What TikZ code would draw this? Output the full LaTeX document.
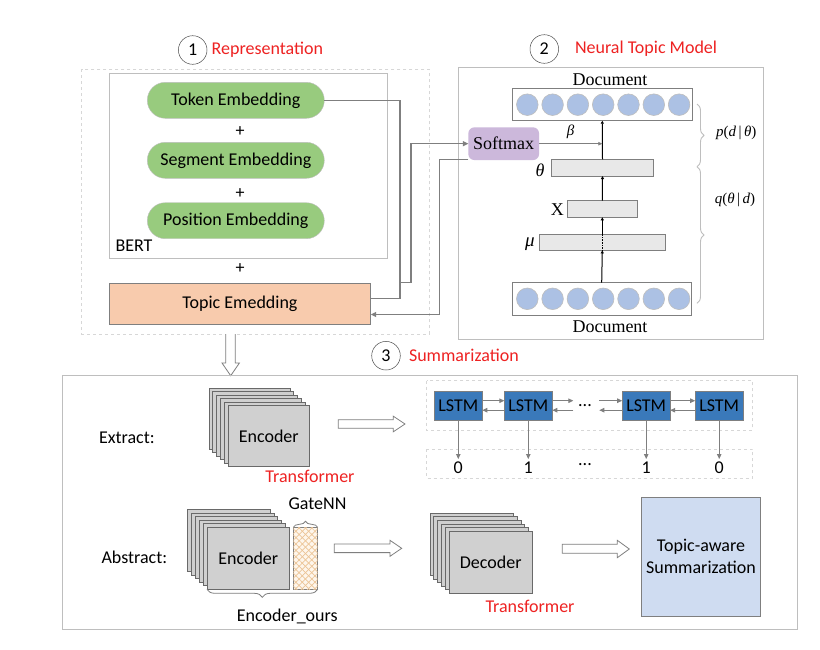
\documentclass[tikz,border=0pt]{standalone}
\usepackage{fontspec}
\setmainfont{Carlito}
\newfontfamily\tms{Liberation Serif}
\usetikzlibrary{arrows.meta,decorations.pathreplacing,patterns,patterns.meta,calc}
\definecolor{lc}{RGB}{127,127,127}
\definecolor{cardbd}{RGB}{105,105,105}
\definecolor{cardfill}{RGB}{208,208,208}
\definecolor{pillgreen}{RGB}{152,203,126}
\definecolor{salmon}{RGB}{248,203,173}
\definecolor{softpurple}{RGB}{204,184,219}
\definecolor{dotblue}{RGB}{172,193,228}
\definecolor{lstmblue}{RGB}{58,121,186}
\definecolor{sumblue}{RGB}{207,220,241}
\definecolor{hdred}{RGB}{238,34,34}
\definecolor{lightbd}{RGB}{190,190,190}
\definecolor{dashbd}{RGB}{215,215,215}
\definecolor{layerfill}{RGB}{232,232,232}
\definecolor{gatefill}{RGB}{254,246,236}
\definecolor{gateline}{RGB}{236,196,150}
\begin{document}
\begin{tikzpicture}[x=1pt,y=-1pt,
  txt/.style={font=\fontsize{18}{21}\selectfont, inner sep=0pt, outer sep=0pt},
  sertxt/.style={font=\tms\fontsize{18}{21}\selectfont, inner sep=0pt, outer sep=0pt},
  hd/.style={txt, text=hdred, anchor=west},
  numc/.style={circle, draw=black!70, line width=0.5pt, minimum size=28.6pt, inner sep=0pt, font=\fontsize{18}{21}\selectfont},
  pill/.style={txt, draw=lightbd, fill=pillgreen, rounded corners=18pt, minimum width=177pt, minimum height=36pt},
  box/.style={inner sep=0pt, outer sep=0pt},
  ln/.style={draw=lc, line width=1.1pt},
  arr/.style={ln, -{Triangle[length=5.5pt,width=5pt]}},
  blk/.style={draw=black, line width=1pt, -{Triangle[length=3pt,width=3pt]}},
  card/.style={draw=cardbd, fill=cardfill, line width=0.8pt},
  lstm/.style={txt, box, draw=lc, fill=lstmblue, line width=0.8pt, minimum width=48pt, minimum height=28.3pt},
  layer/.style={box, draw=lc, fill=layerfill, line width=0.8pt},
  dot/.style={circle, draw=lightbd, fill=dotblue, line width=0.6pt, minimum size=21.6pt, inner sep=0pt},
  brc/.style={draw=lightbd, line width=0.9pt, decorate, decoration={brace, amplitude=7pt}},
  brc2/.style={draw=lc, line width=0.8pt, decorate, decoration={brace, amplitude=8pt}},
  hollow/.style={draw=lc, fill=white, line width=0.8pt}
]
\useasboundingbox (0,0) rectangle (820,649);
\fill[white] (0,0) rectangle (820,649);

% ---------- section 1: representation ----------
\node[numc] (n1) at (192.7,50) {1};
\node[hd] (h1) at (211.7,50) {Representation};
\draw[draw=dashbd, dashed, line width=0.7pt] (81.7,69.3) rectangle (429.3,334);
\draw[draw=lightbd, line width=1pt] (109.3,73.3) rectangle (387.7,258.3);
\node[pill] (token) at (235.8,100.3) {Token Embedding};
\node[txt] (p1) at (240,132) {+};
\node[pill] (segment) at (235.8,160.3) {Segment Embedding};
\node[txt] (p2) at (240,194) {+};
\node[pill] (position) at (235.8,220.7) {Position Embedding};
\node[txt, anchor=west] (bert) at (115.5,246) {BERT};
\node[txt] (p3) at (240,269) {+};
\node[txt, box, draw=lc, fill=salmon, line width=1pt, minimum width=261.4pt, minimum height=41pt] (topic) at (240,303.8) {Topic Emedding};

% ---------- section 2: neural topic model ----------
\node[numc] (n2) at (544.3,49) {2};
\node[hd] (h2) at (575,49) {Neural Topic Model};
\draw[draw=lightbd, line width=1pt] (458.5,67.3) rectangle (763.3,339);
\node[sertxt] (docT) at (610,80) {Document};
\node[box, draw=lc, line width=0.8pt, minimum width=180pt, minimum height=32pt] (rowT) at (602.3,104.7) {};
\foreach \i in {0,...,6} \node[dot] (t\i) at (527.3+\i*25.3,104.7) {};
\node[box, draw=lc, line width=0.8pt, minimum width=178.7pt, minimum height=32.3pt] (rowB) at (601.7,298.8) {};
\foreach \i in {0,...,6} \node[dot] (b\i) at (527.3+\i*25.3,298.8) {};
\node[sertxt] (docB) at (610,326.7) {Document};
\node[layer, minimum width=101.6pt, minimum height=16.7pt] (th) at (602.5,167.7) {};
\node[layer, minimum width=70pt, minimum height=16.6pt] (xb) at (602.3,209) {};
\node[layer, minimum width=126pt, minimum height=16.3pt] (mub) at (602.3,242.2) {};
\node[sertxt, font=\tms\itshape\fontsize{18}{20}\selectfont] (thl) at (540,170) {θ};
\node[sertxt] (xl) at (557.3,210) {X};
\node[sertxt, font=\tms\itshape\fontsize{19}{20}\selectfont] (mul) at (530,244) {μ};
\node[sertxt, font=\tms\itshape\fontsize{15}{18}\selectfont] (bl) at (570.7,131.7) {β};
\node[sertxt, box, draw=none, fill=softpurple, rounded corners=6pt, minimum width=70.7pt, minimum height=32.7pt] (sm) at (503.7,143.7) {Softmax};
\draw[blk] (rowB.north) -- (mub.south);
\draw[black, densely dotted, line width=0.6pt] (mub.south) -- (mub.north);
\draw[blk] (mub.north) -- (xb.south);
\draw[blk] (xb.north) -- (th.south);
\draw[blk] (th.north) -- (rowT.south);
\coordinate (bj) at (rowT.south |- sm.east);
\draw[ln, line width=0.8pt, -{Triangle[length=4pt,width=3.5pt]}] (sm.east) -- (bj);
\draw[brc] (697,104) -- (697,166.7);
\draw[brc] (697,166.7) -- (697,303.3);
\node[sertxt, font=\tms\fontsize{15}{18}\selectfont] (pl) at (736.3,133) {\itshape p\upshape(\itshape d\,\upshape|\,\itshape θ\upshape)};
\node[sertxt, font=\tms\fontsize{15}{18}\selectfont] (ql) at (735,200) {\itshape q\upshape(\itshape θ\,\upshape|\,\itshape d\upshape)};

% connectors between representation and NTM
\coordinate (j1) at (400,298.3);
\draw[ln] (token.east) -| (j1) -- (j1 -| topic.east);
\coordinate (j2) at (400,282.7);
\draw[arr] (j2) -- ++(11,0) |- (sm.west);
\coordinate (j3) at (439.3,159.3);
\coordinate (j4) at (439.3,314.5);
\draw[arr] (sm.west |- j3) -- (j3) -- (j4) -- (j4 -| topic.east);

% ---------- section 3: summarization ----------
\draw[hollow] (225.7,334) -- (225.7,363) -- (222,363) -- (230.7,375.7) -- (239.4,363) -- (235.2,363) -- (235.2,334);
\node[numc] (n3) at (386,355.7) {3};
\node[hd] (h3) at (409,355.7) {Summarization};
\draw[draw=lightbd, line width=1pt] (62,375.7) rectangle (797.3,629.3);

% Extract row
\node[txt, anchor=west] (ext) at (99,437.7) {Extract:};
\foreach \k in {5,...,1} \draw[card] (228.3-\k*3.86,405.7-\k*3.47) rectangle ++(81,61);
\node[txt, box, draw=cardbd, fill=cardfill, line width=0.8pt, minimum width=81pt, minimum height=61pt] (enc1) at (268.8,436.2) {Encoder};
\node[txt, text=hdred] (tr1) at (310,476.7) {Transformer};
\draw[hollow] (338.3,419.8) -- (393.3,419.8) -- (393.3,416.2) -- (405,424) -- (393.3,431.8) -- (393.3,428.2) -- (338.3,428.2) -- cycle;

\draw[draw=dashbd, dashed, line width=0.7pt] (426.7,380.7) rectangle (752.7,430);
\draw[draw=dashbd, dashed, line width=0.7pt] (426.7,449.3) rectangle (752.7,478.3);
\node[lstm] (l1) at (458.3,405.9) {LSTM};
\node[lstm] (l2) at (528.3,405.9) {LSTM};
\node[lstm] (l3) at (646.2,405.9) {LSTM};
\node[lstm] (l4) at (719.2,405.9) {LSTM};
\node[txt] (ell1) at (585,406) {...};
\coordinate (fy) at (0,400.7);
\coordinate (by) at (0,410.2);
\coordinate (m1) at (573.3,0);
\coordinate (m2) at (599.3,0);
\tikzset{sarr/.style={ln, line width=0.9pt, -{Triangle[length=5pt,width=4.5pt]}}}
\draw[sarr] (l1.east |- fy) -- (l2.west |- fy);
\draw[sarr] (l2.west |- by) -- (l1.east |- by);
\draw[sarr] (l2.east |- fy) -- (m1 |- fy);
\draw[sarr] (m1 |- by) -- (l2.east |- by);
\draw[sarr] (m2 |- fy) -- (l3.west |- fy);
\draw[sarr] (l3.west |- by) -- (m2 |- by);
\draw[sarr] (l3.east |- fy) -- (l4.west |- fy);
\draw[sarr] (l4.west |- by) -- (l3.east |- by);
\coordinate (dy) at (0,459);
\node[txt] (d1) at (458.3,467.7) {0};
\node[txt] (d2) at (528.3,467.7) {1};
\node[txt] (d3) at (585,465) {...};
\node[txt] (d4) at (646.2,467.7) {1};
\node[txt] (d5) at (719.2,467.7) {0};
\draw[sarr] (l1.south) -- (l1.south |- dy);
\draw[sarr] (l2.south) -- (l2.south |- dy);
\draw[sarr] (l3.south) -- (l3.south |- dy);
\draw[sarr] (l4.south) -- (l4.south |- dy);

% Abstract row
\node[txt, anchor=west] (abs) at (101.5,557.3) {Abstract:};
\foreach \k in {5,...,1} \draw[card] (207-\k*3.94,527.3-\k*3.6) rectangle ++(82.7,62);
\node[txt, box, draw=cardbd, fill=cardfill, line width=0.8pt, minimum width=82.7pt, minimum height=62pt] (enc2) at (248.3,558.3) {Encoder};
\node[box, draw=lc, line width=0.6pt, fill=gatefill, minimum width=24.4pt, minimum height=62pt,
  postaction={pattern={Lines[angle=45,distance=4.5pt,line width=0.7pt]}, pattern color=gateline},
  postaction={pattern={Lines[angle=-45,distance=4.5pt,line width=0.7pt]}, pattern color=gateline}] (gate) at (305.5,558.3) {};
\draw[brc2, decoration={brace, amplitude=6pt}] (gate.north west) -- (gate.north east);
\node[txt] (gatel) at (317.5,503.3) {GateNN};
\draw[brc2] (gate.south east) -- (enc2.south west);
\node[txt] (encours) at (287.3,616) {Encoder\_ours};
\draw[hollow] (334.3,544) -- (390,544) -- (390,540.3) -- (401.7,548.3) -- (390,556.3) -- (390,552.6) -- (334.3,552.6) -- cycle;

\foreach \k in {5,...,1} \draw[card] (449-\k*3.8,531-\k*3.54) rectangle ++(83.3,62.3);
\node[txt, box, draw=cardbd, fill=cardfill, line width=0.8pt, minimum width=83.3pt, minimum height=62.3pt] (dec) at (490.7,562.2) {Decoder};
\node[txt, text=hdred] (tr2) at (530,606.7) {Transformer};
\draw[hollow] (562.3,544.3) -- (617.3,544.3) -- (617.3,540.3) -- (629.3,549) -- (617.3,557.7) -- (617.3,553.2) -- (562.3,553.2) -- cycle;
\node[txt, box, draw=lc, fill=sumblue, line width=1pt, minimum width=119.4pt, minimum height=118.7pt, align=center,
  font=\fontsize{18}{21.7}\selectfont] (summ) at (701,556.7) {Topic-aware\\Summarization};
\end{tikzpicture}
\end{document}
